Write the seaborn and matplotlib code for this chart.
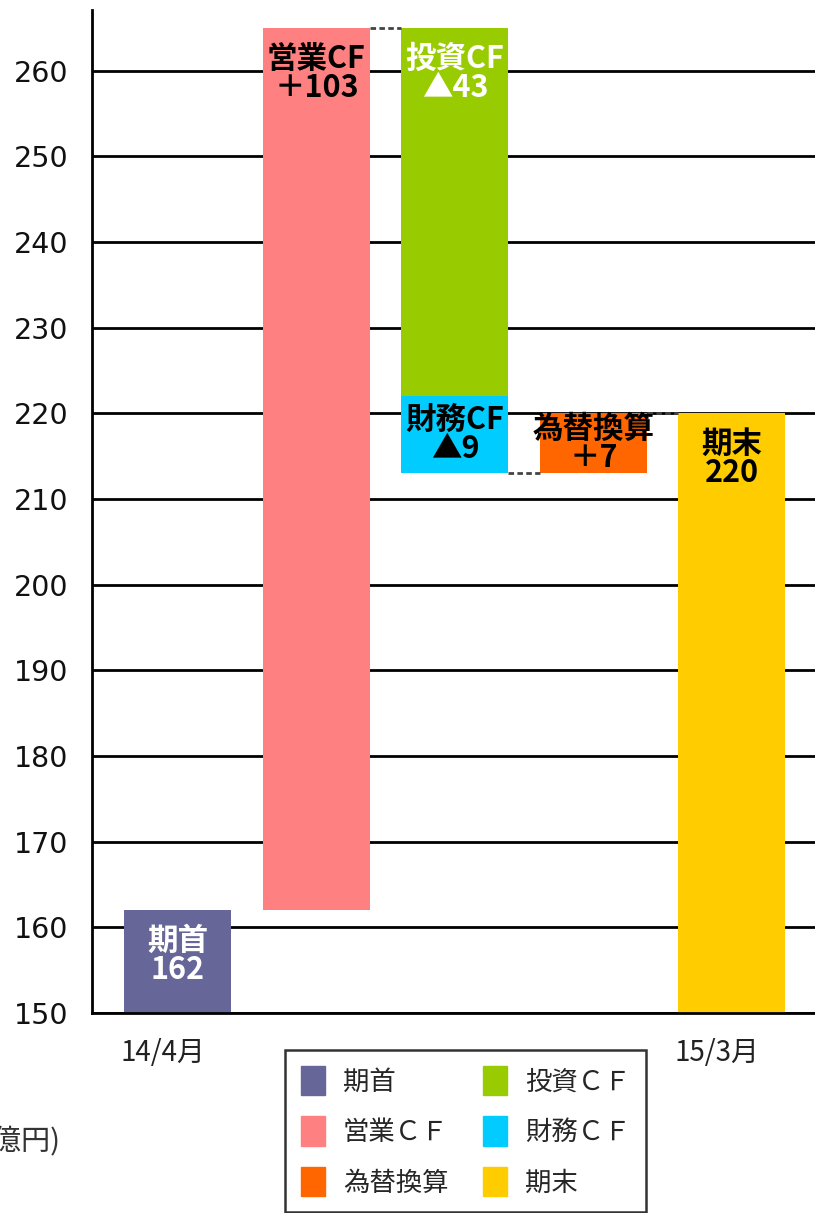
import numpy as np
import pandas as pd
import matplotlib
matplotlib.use("Agg")
import matplotlib.pyplot as plt
import matplotlib.patches as mpatches
import matplotlib.transforms as mtransforms
import seaborn as sns

sns.set_theme(style="white")
plt.rcParams['font.family'] = ['Noto Sans CJK JP', 'DejaVu Sans']

# === chart data (億円) ===
steps = ['期首', '営業CF', '投資CF', '財務CF', '為替換算', '期末']
legend_names = ['期首', '営業ＣＦ', '投資ＣＦ', '財務ＣＦ', '為替換算', '期末']
slot = [0, 1, 2, 2, 3, 4]
tops = [162, 265, 265, 222, 220, 220]
bottoms = [150, 162, 222, 213, 213, 150]
value_text = ['162', '＋103', '▲43', '▲9', '＋7', '220']
colors = ['#666699', '#FF8080', '#99CC00', '#00CCFF', '#FF6600', '#FFCC00']
text_colors = ['white', 'black', 'white', 'black', 'black', 'black']
xtick_labels = ['14/4月', '', '', '', '15/3月']
yticks = list(range(150, 261, 10))

df = pd.DataFrame({'step': steps, 'slot': slot,
                   'height': np.subtract(tops, bottoms)})

W, H = 815, 1213
fig = plt.figure(figsize=(W / 100, H / 100), dpi=100)
ax = fig.add_axes([92 / W, 200 / H, 1 - 92 / W, 1003 / H])

bar_w = 0.772
sns.barplot(data=df, x='slot', y='height', hue='step', hue_order=steps,
            palette=colors, dodge=False, width=bar_w, saturation=1,
            legend=False, ax=ax, linewidth=0)

# float each bar up to its starting level
for patch, b in zip(ax.patches, bottoms):
    patch.set_y(b)
    patch.set_zorder(2)

# labels inside bars
for s, name, val, top, b, tc in zip(slot, steps, value_text, tops, bottoms, text_colors):
    off = min(5.3, (top - b) / 2)
    ax.text(s, top - off, f"{name}\n{val}", ha='center', va='center',
            fontsize=22, fontweight='bold', color=tc, linespacing=0.88, zorder=4)

# dashed connectors between slots (level carried to the next bar)
for i in range(1, len(steps) - 1):
    if slot[i + 1] == slot[i]:
        continue
    y = tops[i] if i != 3 else bottoms[i]
    ax.hlines(y, slot[i] + bar_w / 2, slot[i + 1] - bar_w / 2,
              colors='#444444', linewidth=2, linestyles=(0, (2, 1.2)), zorder=3)

ax.set_ylim(150, 267.1)
ax.set_xlim(-0.62, 4.6)
ax.set_yticks(yticks)
ax.set_xticks(range(5))
ax.set_xticklabels(xtick_labels)
ax.set_xlabel('')
ax.set_ylabel('')
ax.set_axisbelow(True)
ax.yaxis.grid(True, color='black', linewidth=2)
ax.xaxis.grid(False)
for side in ['top', 'right']:
    ax.spines[side].set_visible(False)
for side in ['left', 'bottom']:
    ax.spines[side].set_color('black')
    ax.spines[side].set_linewidth(2)
    ax.spines[side].set_zorder(5)
ax.tick_params(axis='y', length=0, pad=17, labelsize=20.5, labelcolor='#111111')
ax.tick_params(axis='x', length=0, pad=18, labelsize=20, labelcolor='#222222')
for lbl in ax.get_yticklabels():
    lbl.set_family('DejaVu Sans')
shift = mtransforms.ScaledTranslation(-15 / 100, 0, fig.dpi_scale_trans)
for lbl in ax.get_xticklabels():
    lbl.set_transform(lbl.get_transform() + shift)

# unit text, partly cut at the left edge as in the source
fig.text(60 / W, 1 - 1142 / H, '(億円)', ha='right', va='center',
         fontsize=21, color='#333333')

handles = [mpatches.Patch(color=c) for c in colors]
order = [0, 1, 4, 2, 3, 5]
leg = fig.legend([handles[i] for i in order], [legend_names[i] for i in order],
                 ncol=2, loc='upper left', bbox_to_anchor=(285 / W, 1 - 1050 / H),
                 frameon=True, fancybox=False, edgecolor='black', fontsize=19,
                 handlelength=0.9, handleheight=1.33, handletextpad=0.7,
                 columnspacing=1.3, labelspacing=0.8, borderpad=0.6,
                 borderaxespad=0)
leg.get_frame().set_linewidth(1.8)

fig.savefig('out.png', dpi=100)
